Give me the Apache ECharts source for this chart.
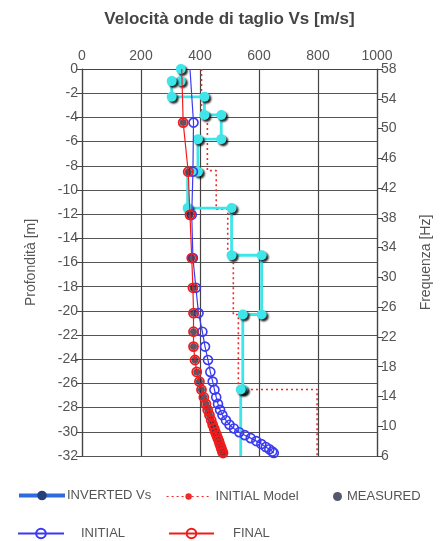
<!DOCTYPE html>
<html>
<head>
<meta charset="utf-8">
<script src="https://cdn.jsdelivr.net/npm/echarts@6/dist/echarts.min.js"></script>
<style>
  html, body { margin: 0; padding: 0; background: #fff; }
  #main { width: 443px; height: 541px; }
</style>
</head>
<body>
<div id="main"></div>
<script>
// profilo Vs invertito: vertici della spezzata (Vs [m/s], profondita [m])
var invVs    = [335, 335, 304, 304, 415, 415, 472, 472, 393, 393, 358, 358, 507, 507, 609, 609, 545, 545, 538, 538];
var invDepth = [0, -1.0, -1.0, -2.3, -2.3, -3.8, -3.8, -5.8, -5.8, -8.5, -8.5, -11.5, -11.5, -15.4, -15.4, -20.3, -20.3, -26.5, -26.5, -32];

// modello iniziale a strati: Vs e base dello strato
var initModelVs   = [405, 425, 455, 494, 513, 530, 797];
var initModelBase = [-3.8, -8.4, -11.6, -15.5, -20.3, -26.5, -32];

// curve di dispersione (frequenza [Hz] -> Vs [m/s])
var freq       = [58, 50.8, 44.2, 38.4, 32.6, 28.6, 25.2, 22.7, 20.7, 18.9, 17.3, 16.0, 14.9, 13.9, 13.0, 12.2, 11.5, 10.8, 10.2, 9.7, 9.2, 8.8, 8.4, 8.0, 7.6, 7.2, 6.9, 6.6, 6.4];
var initialVs  = [366, 378, 376, 372, 376, 386, 395, 408, 417, 427, 435, 443, 449, 455, 461, 468, 476, 488, 500, 515, 533, 552, 572, 591, 608, 623, 635, 645, 650];
var finalVs    = [338, 343, 360, 366, 372, 376, 378, 378, 378, 383, 389, 398, 405, 413, 420, 426, 432, 438, 443, 448, 452, 456, 460, 464, 467, 471, 473, 476, 478];
var measuredVs = [null, 343, 360, 366, 372, 376, 378, 378, 378, 383, 389, 398, 405, 413, 420, 426, 432, 438, 443, 448, 452, 456, 460, 464, 467, 471, 473, 476, 478];

var xTicks = [0, 200, 400, 600, 800, 1000];

function stepModel(vs, base) {
  var pts = [];
  var top = 0;
  for (var i = 0; i < vs.length; i++) {
    pts.push([vs[i], top]);
    pts.push([vs[i], base[i]]);
    top = base[i];
  }
  return pts;
}

function curve(vs) {
  var out = [];
  for (var i = 0; i < freq.length; i++) {
    if (vs[i] == null) continue;
    if (i === 0) out.push({ value: [vs[i], freq[i]], symbol: 'none' });
    else out.push([vs[i], freq[i]]);
  }
  return out;
}

// ultimo vertice (fondo) e quello nascosto sotto il punto misurato: senza simbolo
var invData = invVs.map(function (v, i) {
  if (i === invVs.length - 1 || i === 10) return { value: [v, invDepth[i]], symbol: 'none' };
  return [v, invDepth[i]];
});

var measData = [];
for (var k = 0; k < freq.length; k++) {
  if (measuredVs[k] != null) measData.push([measuredVs[k], freq[k]]);
}

var labelStyle = { color: '#555', fontSize: 14, fontFamily: 'Liberation Sans' };
var legendText = { color: '#555', fontSize: 13, fontFamily: 'Liberation Sans' };
var noShadow = { shadowBlur: 0, shadowOffsetX: 0, shadowOffsetY: 0, shadowColor: 'transparent' };

var myChart = echarts.init(document.getElementById('main'));
myChart.setOption({
  animation: false,
  backgroundColor: '#fff',
  grid: { left: 82, right: 66, top: 69, bottom: 85 },
  xAxis: {
    type: 'value',
    position: 'top',
    min: xTicks[0],
    max: xTicks[xTicks.length - 1],
    interval: 200,
    name: 'Velocità onde di taglio Vs [m/s]',
    nameLocation: 'middle',
    nameGap: 41,
    nameTextStyle: { color: '#444', fontSize: 17, fontWeight: 'bold', fontFamily: 'Liberation Sans' },
    axisLine: { lineStyle: { color: '#444', width: 1.2 } },
    axisTick: { show: false },
    axisLabel: Object.assign({ margin: 6, formatter: function (v) { return String(v); } }, labelStyle),
    splitLine: { lineStyle: { color: '#444', width: 1.2 } }
  },
  yAxis: [
    {
      type: 'value',
      min: -32,
      max: 0,
      interval: 2,
      name: 'Profondità [m]',
      nameLocation: 'middle',
      nameRotate: 90,
      nameGap: 44,
      nameTextStyle: { color: '#555', fontSize: 14, fontFamily: 'Liberation Sans' },
      axisLine: { show: true, lineStyle: { color: '#444', width: 1.2 } },
      axisTick: { show: true, length: 6, lineStyle: { color: '#444' } },
      axisLabel: Object.assign({ margin: 4 }, labelStyle),
      splitLine: { lineStyle: { color: '#555', width: 1.2 } }
    },
    {
      type: 'value',
      position: 'right',
      min: 6,
      max: 58,
      interval: 4,
      name: 'Frequenza [Hz]',
      nameLocation: 'middle',
      nameRotate: 90,
      nameGap: 42,
      nameTextStyle: { color: '#555', fontSize: 14, fontFamily: 'Liberation Sans' },
      axisLine: { show: true, lineStyle: { color: '#444', width: 1.2 } },
      axisTick: { show: true, length: 6, lineStyle: { color: '#444' } },
      axisLabel: Object.assign({ margin: 4 }, labelStyle),
      splitLine: { show: false }
    }
  ],
  legend: [
    {
      left: 17, top: 489, padding: 0, itemWidth: 46, itemHeight: 12, selectedMode: false,
      textStyle: Object.assign({ padding: [0, 0, 0, -3] }, legendText),
      data: [{ name: 'INVERTED Vs',
        itemStyle: Object.assign({ color: '#26407c', borderWidth: 0 }, noShadow),
        lineStyle: { color: '#2f6be0', width: 4 } }]
    },
    {
      left: 166, top: 490, padding: 0, itemWidth: 44, itemHeight: 8, selectedMode: false,
      textStyle: legendText,
      data: [{ name: 'INITIAL Model',
        itemStyle: { color: '#ee2a2a' },
        lineStyle: { color: '#ee2a2a', width: 1.2, type: [2, 3] } }]
    },
    {
      left: 333, top: 490, padding: 0, itemWidth: 9, itemHeight: 9, selectedMode: false,
      textStyle: legendText,
      data: [{ name: 'MEASURED', icon: 'circle' }]
    },
    {
      left: 17, top: 527, padding: 0, itemWidth: 46, itemHeight: 12, selectedMode: false,
      textStyle: Object.assign({ padding: [0, 0, 0, 12] }, legendText),
      data: [{ name: 'INITIAL' }]
    },
    {
      left: 168, top: 527, padding: 0, itemWidth: 45, itemHeight: 12, selectedMode: false,
      textStyle: Object.assign({ padding: [0, 0, 0, 14] }, legendText),
      data: [{ name: 'FINAL' }]
    }
  ],
  series: [
    {
      name: 'INITIAL Model',
      type: 'line',
      yAxisIndex: 0,
      data: stepModel(initModelVs, initModelBase),
      symbol: 'none',
      lineStyle: { color: '#ee2a2a', width: 1.6, type: [2, 3] },
      z: 2
    },
    {
      name: 'INVERTED Vs',
      type: 'line',
      yAxisIndex: 0,
      data: invData,
      symbol: 'circle',
      symbolSize: 10,
      lineStyle: { color: '#3ee6ea', width: 2.8 },
      itemStyle: { color: '#3ee6ea', shadowColor: 'rgba(0,0,0,0.85)', shadowOffsetX: 2, shadowOffsetY: 2, shadowBlur: 2 },
      z: 3
    },
    {
      name: 'INITIAL',
      type: 'line',
      yAxisIndex: 1,
      data: curve(initialVs),
      symbol: 'circle',
      symbolSize: 9,
      itemStyle: { color: 'rgba(255,255,255,0)', borderColor: '#3a3af2', borderWidth: 1.6 },
      lineStyle: { color: '#3a3af2', width: 1.2 },
      z: 4
    },
    {
      name: 'MEASURED',
      type: 'scatter',
      yAxisIndex: 1,
      data: measData,
      symbolSize: 7,
      itemStyle: { color: '#2b2d48' },
      z: 5
    },
    {
      name: 'FINAL',
      type: 'line',
      yAxisIndex: 1,
      data: curve(finalVs),
      symbol: 'circle',
      symbolSize: 9,
      itemStyle: { color: 'rgba(255,255,255,0)', borderColor: '#f01c1c', borderWidth: 1.8 },
      lineStyle: { color: '#f01c1c', width: 1.2 },
      z: 6
    }
  ]
});
</script>
</body>
</html>
